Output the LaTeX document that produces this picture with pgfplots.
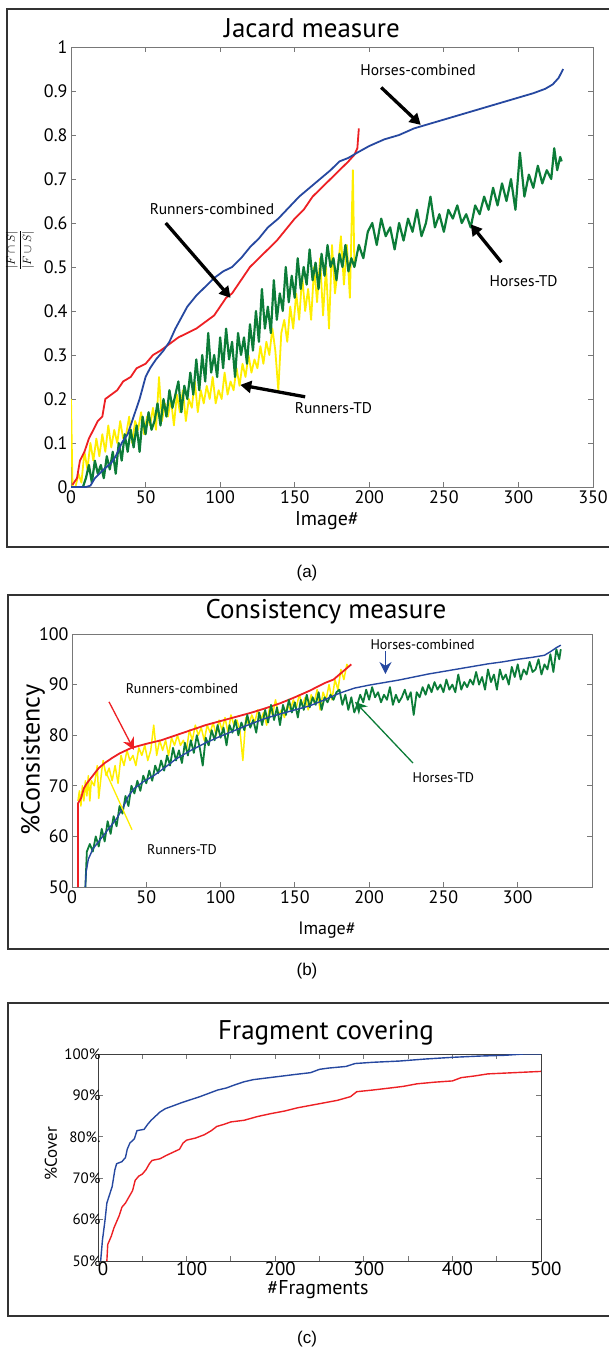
\documentclass[border=0pt]{standalone}
\usepackage{fontspec}
\setmainfont{PT Sans}
\newfontfamily\capfont{Liberation Sans}
\usepackage{pgfplots}
\pgfplotsset{compat=1.18}
\usetikzlibrary{arrows.meta}

\definecolor{mblue}{RGB}{38,72,160}
\definecolor{mred}{RGB}{237,32,36}
\definecolor{mgreen}{RGB}{12,124,56}
\definecolor{myellow}{RGB}{255,238,0}
\definecolor{boxgray}{RGB}{120,120,120}

\pgfplotsset{
  panel/.style={
    scale only axis,
    axis line style={boxgray, line width=0.8pt},
    tick style={boxgray, line width=0.8pt},
    tick align=inside,
    major tick length=5pt,
    minor tick length=5pt,
    ticklabel style={font=\fontsize{18}{20}\selectfont, text=black},
    /pgf/number format/assume math mode=true,
    every axis plot/.append style={line join=round},
  },
}
\newcommand{\fs}[1]{\fontsize{#1}{#1}\selectfont}

\begin{document}
\begin{tikzpicture}
\path[use as bounding box] (0,0) rectangle (609pt,-1353pt);

% frames round the three panels
\draw[black!80, line width=2pt] (7pt,-9pt) rectangle (612pt,-547pt);
\draw[black!80, line width=2pt] (8pt,-595pt) rectangle (612pt,-949pt);
\draw[black!80, line width=2pt] (8pt,-1003pt) rectangle (612pt,-1316pt);

% ---------------- (a) Jacard measure ----------------
\node at (312pt,-28pt) {\fs{27}Jacard measure};
\node at (327pt,-521pt) {\fs{20}Image\#};
\node[rotate=90] at (20pt,-250pt) {\fs{12}$\displaystyle\frac{|F\cap S|}{|F\cup S|}$};
\node at (307pt,-573pt) {\capfont\fs{17}(a)};

\begin{axis}[panel, at={(71pt,-487pt)}, anchor=south west,
  width=522pt, height=440pt,
  xmin=0, xmax=350, ymin=0, ymax=1,
  xtick={0,50,...,350},
  ytick={0,0.1,0.2,0.3,0.4,0.5,0.6,0.7,0.8,0.9,1},
  yticklabel style={/pgf/number format/fixed, /pgf/number format/precision=1},
]
% Runners-TD
\addplot[myellow, line width=1.8pt] coordinates {
(0,0.2)(1,0.0)(3,0.0)(5,0.03)(7,0.01)(9,0.08)(11,0.04)(13,0.1)(15,0.06)(17,0.11)(19,0.07)
(21,0.12)(23,0.08)(25,0.14)(27,0.09)(29,0.13)(31,0.1)(33,0.15)(35,0.11)(37,0.12)(39,0.16)
(41,0.1)(43,0.15)(45,0.13)(47,0.17)(49,0.12)(51,0.16)(53,0.14)(55,0.18)(57,0.13)(59,0.25)
(61,0.15)(63,0.19)(65,0.16)(67,0.2)(69,0.14)(71,0.21)(73,0.17)(75,0.22)(77,0.15)(79,0.2)
(81,0.18)(83,0.24)(85,0.17)(87,0.22)(89,0.19)(91,0.23)(93,0.2)(95,0.25)(97,0.19)(99,0.22)
(101,0.2)(103,0.26)(105,0.21)(107,0.24)(109,0.22)(111,0.27)(113,0.23)(115,0.28)(117,0.25)
(119,0.3)(121,0.26)(123,0.29)(125,0.27)(127,0.32)(129,0.28)(131,0.33)(133,0.3)(135,0.36)
(137,0.31)(139,0.22)(141,0.35)(143,0.38)(145,0.33)(147,0.41)(149,0.36)(151,0.44)(153,0.38)
(155,0.48)(157,0.4)(159,0.45)(161,0.38)(163,0.5)(165,0.42)(167,0.52)(169,0.39)(171,0.5)
(173,0.36)(175,0.55)(177,0.44)(179,0.5)(181,0.57)(183,0.46)(185,0.55)(187,0.43)(189,0.72)(190,0.5)
};
% Horses-TD
\addplot[mgreen, line width=2.2pt] coordinates {
(8,0.0)(10,0.02)(12,0.05)(14,0.01)(16,0.06)(18,0.03)(20,0.05)(22,0.02)(24,0.07)(26,0.04)
(28,0.08)(30,0.03)(32,0.1)(34,0.06)(36,0.12)(38,0.08)(40,0.13)(42,0.09)(44,0.14)(46,0.08)
(48,0.16)(50,0.12)(52,0.17)(54,0.13)(56,0.15)(58,0.19)(60,0.14)(62,0.2)(64,0.16)(66,0.22)
(68,0.18)(70,0.21)(72,0.24)(74,0.17)(76,0.23)(78,0.2)(80,0.26)(82,0.21)(84,0.29)(86,0.22)
(88,0.3)(90,0.24)(92,0.35)(94,0.26)(96,0.3)(98,0.25)(100,0.34)(102,0.27)(104,0.36)(106,0.29)
(108,0.33)(110,0.25)(112,0.35)(114,0.3)(116,0.34)(118,0.28)(120,0.37)(122,0.31)(124,0.4)
(126,0.33)(128,0.45)(130,0.36)(132,0.41)(134,0.35)(136,0.47)(138,0.38)(140,0.44)(142,0.4)
(144,0.5)(146,0.42)(148,0.48)(150,0.43)(152,0.52)(154,0.45)(156,0.5)(158,0.46)(160,0.54)
(162,0.47)(164,0.51)(166,0.45)(168,0.53)(170,0.48)(172,0.55)(174,0.5)(176,0.52)(178,0.47)
(180,0.53)(182,0.5)(184,0.55)(186,0.49)(188,0.52)(190,0.5)(193,0.55)(196,0.52)(199,0.58)
(202,0.6)(205,0.55)(208,0.61)(211,0.57)(214,0.59)(217,0.54)(220,0.6)(223,0.56)(226,0.61)
(229,0.58)(232,0.63)(235,0.57)(238,0.6)(241,0.66)(244,0.59)(247,0.62)(250,0.58)(253,0.63)
(256,0.61)(259,0.64)(262,0.6)(265,0.62)(268,0.59)(271,0.64)(274,0.62)(277,0.66)(280,0.63)
(283,0.68)(286,0.64)(289,0.69)(292,0.65)(295,0.7)(298,0.63)(301,0.76)(304,0.66)(307,0.71)
(310,0.68)(313,0.73)(316,0.69)(319,0.72)(322,0.7)(324,0.77)(326,0.72)(328,0.75)(329,0.74)
};
% Runners-combined
\addplot[mred, line width=1.8pt] coordinates {
(1,0.005)(4,0.02)(6,0.06)(9,0.08)(12,0.11)(15,0.13)(18,0.15)(21,0.16)(23,0.2)(27,0.21)
(31,0.22)(35,0.24)(40,0.25)(44,0.27)(50,0.28)(55,0.3)(60,0.31)(66,0.325)(72,0.34)(78,0.35)
(84,0.36)(90,0.375)(96,0.39)(100,0.41)(104,0.43)(108,0.44)(112,0.46)(116,0.48)(120,0.5)
(126,0.52)(132,0.54)(138,0.56)(144,0.585)(150,0.61)(156,0.63)(162,0.66)(168,0.68)(174,0.7)
(180,0.72)(186,0.74)(190,0.755)(192,0.77)(193,0.815)
};
% Horses-combined
\addplot[mblue, line width=1.8pt] coordinates {
(0,0)(10,0)(13,0.003)(16,0.02)(22,0.04)(27,0.055)(30,0.07)(34,0.1)(38,0.12)(42,0.16)
(46,0.2)(50,0.25)(53,0.27)(57,0.29)(62,0.31)(66,0.33)(70,0.36)(74,0.385)(78,0.41)(84,0.435)
(90,0.455)(96,0.475)(102,0.49)(108,0.5)(114,0.52)(120,0.545)(126,0.565)(132,0.59)(139,0.61)
(146,0.635)(153,0.66)(160,0.68)(167,0.7)(174,0.72)(180,0.74)(186,0.748)(192,0.76)(200,0.775)
(210,0.79)(220,0.8)(230,0.815)(240,0.825)(250,0.835)(260,0.845)(270,0.855)(280,0.865)
(290,0.875)(300,0.885)(310,0.895)(318,0.905)(323,0.915)(327,0.93)(330,0.95)
};
\node at (axis cs:232.7,0.948) {\fs{15.5}Horses-combined};
\node at (axis cs:94.5,0.632) {\fs{15.5}Runners-combined};
\node at (axis cs:303.5,0.468) {\fs{15.5}Horses-TD};
\node at (axis cs:176,0.18) {\fs{15.5}Runners-TD};
\begin{scope}[black, line width=3.3pt, -{Triangle[length=11pt,width=12pt]}]
\draw (axis cs:208,0.908) -- (axis cs:234.5,0.823);
\draw (axis cs:63.5,0.600) -- (axis cs:107,0.43);
\draw (axis cs:288.5,0.511) -- (axis cs:268,0.597);
\draw (axis cs:157,0.205) -- (axis cs:113.5,0.232);
\end{scope}
\end{axis}

% ---------------- (b) Consistency measure ----------------
\node at (326pt,-612pt) {\fs{27}Consistency measure};
\node at (327pt,-930pt) {\fs{18}Image\#};
\node[rotate=90] at (33pt,-760pt) {\fs{26}\%Consistency};
\node at (307pt,-971pt) {\capfont\fs{17}(b)};

\begin{axis}[panel, at={(72pt,-887pt)}, anchor=south west,
  width=520pt, height=253pt,
  xmin=0, xmax=350, ymin=50, ymax=100,
  xtick={0,50,...,300}, ytick={50,60,...,100},
  xtick pos=left,
]
% Runners-TD
\addplot[myellow, line width=1.5pt] coordinates {
(4,67)(5,69)(6,66)(7,70)(8,67)(9,71)(10,68)(11,72)(12,67)(13,71)(15,70)(17,74)(18,67.5)
(20,73)(21,75)(23,72)(25,73.5)(27,71)(29,74)(31,70.5)(33,76)(35,74)(37,77)(39,75)(41,76)
(43,74)(45,77.5)(47,76)(49,78)(51,75)(53,77)(55,82)(57,76)(59,79)(61,77)(63,79)(65,76)
(67,79.5)(69,78)(71,80)(73,78)(75,79)(77,77)(79,81)(81,79)(83,82)(85,80)(87,81.5)(89,79)
(91,82)(93,80.5)(95,82.5)(97,80)(99,83)(101,81)(103,83.5)(105,80.5)(107,84)(109,82)(111,83)
(113,81)(115,75)(117,83.5)(119,82)(121,84)(123,82.5)(125,85)(127,83)(129,84.5)(131,82)
(133,85.5)(135,84)(137,87)(139,84)(141,85)(143,83.5)(145,86)(147,85)(149,87)(151,85.5)
(153,88)(155,86)(157,87.5)(159,85)(161,88)(163,86.5)(165,89)(167,85)(169,88.5)(171,87)
(173,90)(175,87)(177,91)(179,89)(181,93)(183,91)(185,94)(186,93.5)
};
% Runners-combined
\addplot[mred, line width=1.8pt] coordinates {
(4,50)(4,66.5)(6,67.5)(8,69.5)(10,70.5)(14,72)(18,73.5)(22,74.5)(27,75.5)(32,76.4)(40,77.5)
(50,78.3)(60,79)(70,80)(80,81)(90,82)(100,82.8)(110,83.6)(120,84.4)(130,85.3)(140,86.3)
(150,87.5)(160,88.8)(170,90.3)(176,91)(180,92)(184,93)(188,94)
};
% Horses-TD
\addplot[mgreen, line width=1.8pt] coordinates {
(9,50)(10,57)(12,58.5)(14,57)(16,60)(18,58)(20,61.5)(22,59)(24,63)(26,60.5)(28,64)(30,62)
(32,66)(34,64.5)(36,68)(38,66)(40,70)(42,68.5)(44,71)(46,69)(48,72)(50,70.5)(52,73)(54,71)
(56,74)(58,72.5)(60,75)(62,73)(64,76)(66,74)(68,77.5)(70,75)(72,77)(74,74.5)(76,78.5)(78,76)
(80,79)(82,76.5)(84,80)(86,77.5)(88,74)(90,79.5)(92,78)(94,81)(96,79)(98,82)(100,79.5)
(102,81.5)(104,78)(106,82)(108,80.5)(110,83)(112,80)(114,82.5)(116,81)(118,84)(120,81.5)
(122,83)(124,80.5)(126,84.5)(128,82)(130,85)(132,82.5)(134,86)(136,83)(138,85.5)(140,82)
(142,86)(144,84)(146,87)(148,84.5)(150,86.5)(152,83.5)(154,87)(156,85)(158,88)(160,85.5)
(162,87.5)(164,86)(166,88.5)(168,85)(170,87.5)(172,86.5)(174,88)(176,87)(178,88.5)(180,89)
(182,86)(184,88)(186,85)(188,87.5)(190,84.5)(192,86)(194,88)(196,86.5)(198,89)(200,87)
(202,89.5)(204,87.5)(206,88.5)(208,86.5)(210,88)(212,87)(214,89.5)(216,86)(218,88)(220,86.5)
(222,87.5)(224,89)(226,87)(228,88.5)(230,84)(232,88.5)(234,87.5)(236,89.5)(238,88)(240,90)
(242,88.5)(244,90.5)(246,89)(248,90)(250,88.5)(252,91)(254,89)(256,90)(258,88.5)(260,92)
(262,89)(264,90.5)(266,89.5)(268,91)(270,90)(272,92.5)(274,90)(276,91.5)(278,89)(280,93)
(282,90.5)(284,92)(286,89)(288,93)(290,91)(292,92)(294,90)(296,93.5)(298,91.5)(300,94)
(302,91)(304,93)(306,92)(308,94.5)(310,92.5)(312,93)(314,95)(316,92)(318,94)(320,93)
(322,96)(324,92.5)(326,97)(328,95)(329,97)
};
% Horses-combined
\addplot[mblue, line width=1.4pt] coordinates {
(9,50)(9.5,53)(11,55.5)(14,57.5)(18,59)(22,60.5)(26,62)(30,63.5)(34,65.5)(38,68)(42,69.5)
(48,70.8)(55,72)(62,73.5)(70,75.3)(80,77)(90,78.5)(100,79.8)(110,81)(120,82.2)(130,83.3)
(140,84.2)(150,85)(160,85.8)(170,87)(180,88.3)(190,89.3)(200,89.9)(210,90.4)(220,90.9)
(230,91.5)(240,92.1)(250,92.6)(260,93.1)(270,93.6)(280,94.1)(290,94.5)(300,95)(310,95.4)
(318,95.8)(322,96.5)(326,97.3)(329,97.8)
};
\node at (axis cs:236,98.0) {\fs{14}Horses-combined};
\node at (axis cs:250,71.7) {\fs{14}Horses-TD};
\node at (axis cs:74,89.3) {\fs{14}Runners-combined};
\node at (axis cs:74,57.3) {\fs{14}Runners-TD};
\draw[mblue, line width=1.2pt, -{Stealth[length=12pt,width=12pt]}] (axis cs:211,96.6) -- (axis cs:211,92.1);
\draw[mgreen, line width=1.3pt, -{Stealth[length=12pt,width=12pt]}] (axis cs:229.5,74.5) -- (axis cs:190.5,86.6);
\draw[mred, line width=1.3pt, -{Stealth[length=12pt,width=12pt]}] (axis cs:24.9,86.6) -- (axis cs:41.7,77.1);
\draw[myellow, line width=1.3pt] (axis cs:40.4,61.3) -- (axis cs:22.2,73.1);
\end{axis}

% ---------------- (c) Fragment covering ----------------
\node at (326pt,-1033pt) {\fs{27}Fragment covering};
\node at (318pt,-1290pt) {\fs{20}\#Fragments};
\node[rotate=90] at (51pt,-1154pt) {\fs{17}\%Cover};
\node at (307pt,-1339pt) {\capfont\fs{17}(c)};

\begin{axis}[panel, at={(98pt,-1261pt)}, anchor=south west,
  width=443pt, height=207pt,
  xmin=0, xmax=500, ymin=50, ymax=100,
  xtick={0,100,...,500}, minor xtick={50,150,...,450},
  ytick={50,60,...,100},
  yticklabels={50\%,60\%,70\%,80\%.,90\%,100\%},
  xticklabel style={font=\fontsize{19}{20}\selectfont, xshift=5pt, yshift=3pt},
  yticklabel style={font=\fontsize{15}{16}\selectfont, xshift=6pt},
  axis line style={black!75, line width=0.8pt},
]
\addplot[mred, line width=1.4pt] coordinates {
(10,50)(11,54)(15,56)(18,58)(21,59.5)(24,61)(27,63)(31,64)(35,65.5)(39,67)(42,69.5)(46,70.5)
(50,71)(54,72)(58,73.5)(61,74.3)(70,74.7)(77,75.5)(85,76.3)(92,77)(96,78.5)(100,79.2)
(110,79.7)(120,80.5)(128,81.5)(134,82.5)(142,83)(150,83.6)(165,84)(180,84.9)(195,85.6)
(210,86.2)(225,87)(240,87.6)(255,88.2)(270,88.8)(285,89.7)(292,90.9)(310,91.3)(330,91.8)
(345,92.2)(360,92.8)(380,93.2)(400,93.5)(410,94.3)(425,94.7)(440,95.2)(460,95.4)(480,95.6)(500,95.8)
};
\addplot[mblue, line width=1.4pt] coordinates {
(3,50)(5,55)(8,60)(10,64)(13,66)(16,68)(19,72)(21,73.5)(27,74)(31,75)(33,77)(36,78.5)
(41,79.5)(44,81.5)(52,81.8)(56,83)(60,84)(65,85)(70,86)(76,86.8)(85,87.5)(95,88.3)
(105,89)(115,89.7)(125,90.5)(135,91.3)(145,91.8)(155,92.6)(165,93.3)(175,93.8)(190,94.2)
(205,94.6)(220,95)(240,95.5)(250,96.3)(260,96.6)(280,97)(290,97.7)(310,98)(340,98.3)
(370,98.8)(400,99.2)(430,99.5)(460,99.7)(480,100)(500,100)
};
\end{axis}
\end{tikzpicture}
\end{document}
